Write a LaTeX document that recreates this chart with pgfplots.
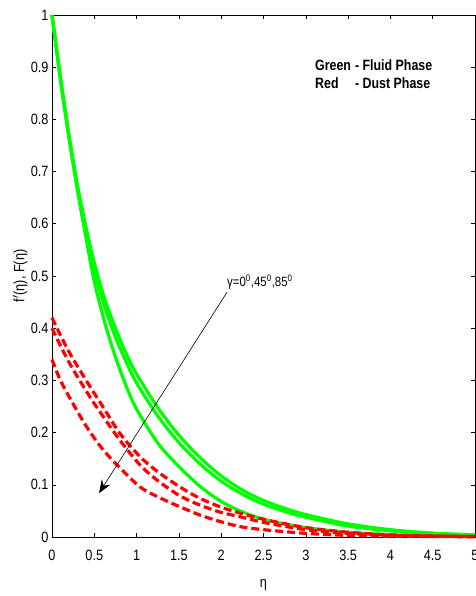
\documentclass[border=0pt]{standalone}
\usepackage{pgfplots}
\pgfplotsset{compat=1.18}
\usepackage{fontspec}
\setmainfont{Liberation Sans}
\newfontfamily\nf[FakeStretch=0.85]{Liberation Sans}
\newfontfamily\nfb[FakeStretch=0.83]{Liberation Sans Bold}
\usetikzlibrary{arrows.meta}
\definecolor{mgreen}{RGB}{0,255,0}
\definecolor{mred}{RGB}{255,0,0}
\begin{document}
\begin{tikzpicture}
\begin{axis}[
  at={(0,0)}, anchor=south west,
  scale only axis, width=423bp, height=522bp,
  xmin=0, xmax=5, ymin=0, ymax=1,
  xtick={0,0.5,...,5}, ytick={0,0.1,...,1},
  xticklabels={0,0.5,1,1.5,2,2.5,3,3.5,4,4.5,5},
  yticklabels={0,0.1,0.2,0.3,0.4,0.5,0.6,0.7,0.8,0.9,1},
  tick align=inside, major tick length=4.5bp,
  tick style={black, line width=0.6bp},
  axis line style={black, line width=0.8bp},
  ticklabel style={font=\fontsize{15}{18}\selectfont\nf},
  xticklabel style={yshift=-10bp},
  /pgf/number format/assume math mode=true,
  xlabel={η}, ylabel={f$^{\prime}$(η), F(η)},
  xlabel style={font=\fontsize{15}{18}\selectfont\nf, at={(axis description cs:0.5,-0.092)}, anchor=center},
  ylabel style={font=\fontsize{15}{18}\selectfont\nf, at={(axis description cs:-0.075,0.5)}, anchor=center},
  clip=false,
]
% Green - fluid phase
\addplot[mgreen, line width=3.2bp, smooth] coordinates {
(0,1) (0.1,0.88) (0.2,0.77) (0.3,0.675) (0.4,0.595) (0.5,0.525) (0.625,0.455) (0.75,0.40) (0.875,0.352) (1.0,0.312) (1.25,0.248) (1.5,0.195) (1.75,0.152) (2.0,0.117) (2.25,0.09) (2.5,0.07) (2.75,0.055) (3.0,0.043) (3.5,0.025) (4.0,0.014) (4.5,0.0075) (5.0,0.004)};
\addplot[mgreen, line width=3.2bp, smooth] coordinates {
(0,1) (0.1,0.88) (0.2,0.77) (0.3,0.67) (0.4,0.585) (0.5,0.512) (0.625,0.44) (0.75,0.383) (0.875,0.336) (1.0,0.295) (1.25,0.232) (1.5,0.181) (1.75,0.14) (2.0,0.107) (2.25,0.082) (2.5,0.063) (2.75,0.049) (3.0,0.038) (3.5,0.021) (4.0,0.012) (4.5,0.0065) (5.0,0.0035)};
\addplot[mgreen, line width=3.2bp, smooth] coordinates {
(0,1) (0.1,0.875) (0.2,0.765) (0.3,0.665) (0.4,0.575) (0.5,0.49) (0.625,0.41) (0.75,0.345) (0.875,0.29) (1.0,0.245) (1.25,0.18) (1.5,0.135) (1.75,0.097) (2.0,0.068) (2.25,0.048) (2.5,0.034) (2.75,0.025) (3.0,0.018) (3.5,0.009) (4.0,0.0045) (4.5,0.002) (5.0,0.001)};
% Red - dust phase
\addplot[mred, line width=3.2bp, dash pattern=on 8bp off 4bp, smooth] coordinates {
(0,0.42) (0.2,0.355) (0.45,0.288) (0.6,0.25) (0.8,0.199) (1.04,0.154) (1.25,0.125) (1.51,0.096) (1.75,0.074) (2.0,0.057) (2.22,0.046) (2.5,0.034) (3.0,0.018) (3.5,0.009) (4.0,0.004) (4.5,0.002) (5.0,0.001)};
\addplot[mred, line width=3.2bp, dash pattern=on 8bp off 4bp, smooth] coordinates {
(0,0.40) (0.2,0.335) (0.45,0.268) (0.6,0.232) (0.8,0.186) (1.04,0.138) (1.25,0.108) (1.51,0.079) (1.75,0.061) (2.0,0.047) (2.22,0.039) (2.5,0.028) (3.0,0.014) (3.5,0.007) (4.0,0.003) (4.5,0.0015) (5.0,0.001)};
\addplot[mred, line width=3.2bp, dash pattern=on 8bp off 4bp, smooth] coordinates {
(0,0.34) (0.1,0.30) (0.25,0.255) (0.41,0.211) (0.6,0.168) (0.8,0.133) (1.04,0.096) (1.25,0.077) (1.51,0.058) (1.75,0.042) (2.0,0.029) (2.22,0.02) (2.5,0.014) (3.0,0.007) (3.5,0.003) (4.0,0.0015) (5.0,0.0005)};
% annotation
\draw[black, line width=0.6bp, -{Stealth[length=13bp,width=10bp]}] (axis cs:2.069,0.469) -- (axis cs:0.556,0.084);
\node[anchor=base west, inner sep=0pt, font=\fontsize{13.5}{16}\selectfont\nf] at (axis cs:2.069,0.479) {γ=0\textsuperscript{0},45\textsuperscript{0},85\textsuperscript{0}};
\node[anchor=base west, inner sep=0pt, font=\fontsize{15}{19}\selectfont\nfb] at (axis cs:3.109,0.8946)
 {\begin{tabular}[t]{@{}l@{\hspace{4bp}}l@{}}Green & - Fluid Phase\\ Red & - Dust Phase\end{tabular}};
\end{axis}
\pgfresetboundingbox
\useasboundingbox (-52bp,-59bp) rectangle (424bp,537bp);
\end{tikzpicture}
\end{document}
